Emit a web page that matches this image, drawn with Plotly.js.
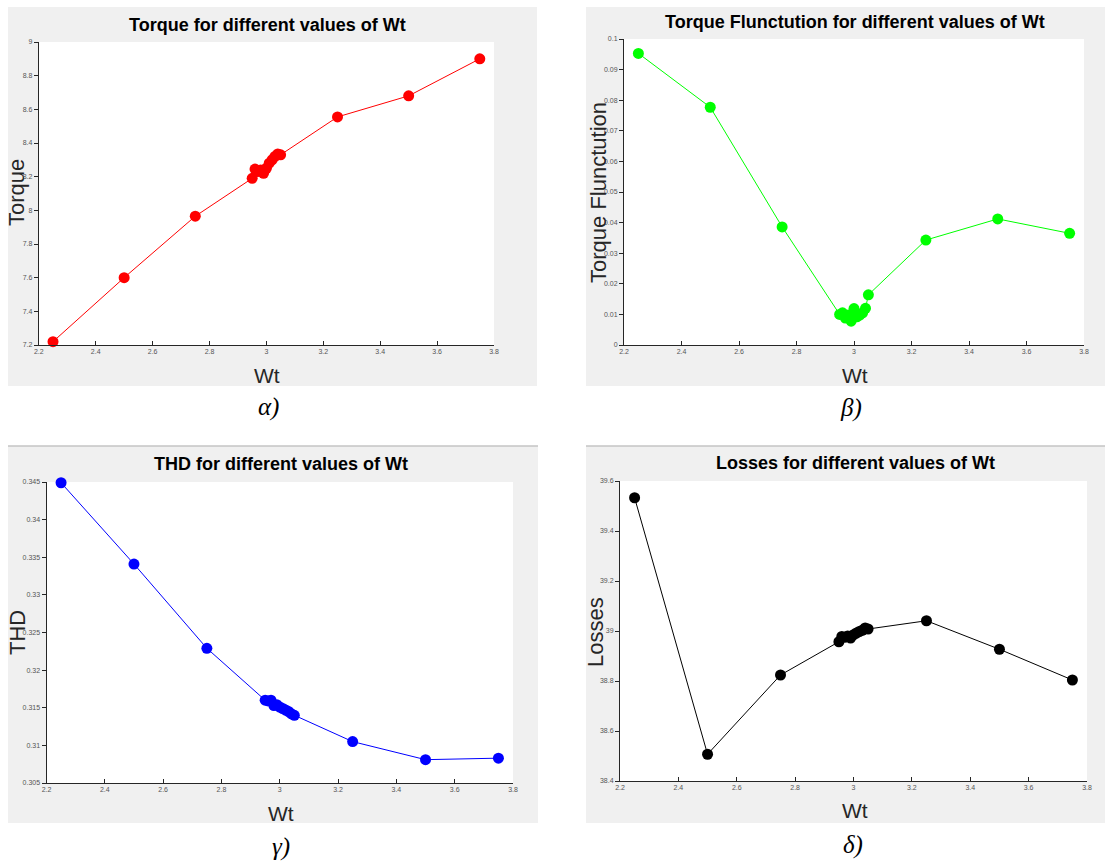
<!DOCTYPE html>
<html>
<head>
<meta charset="utf-8">
<script src="https://cdn.plot.ly/plotly-3.0.1.min.js"></script>
<style>html,body{margin:0;padding:0;background:#fff;}#chart{width:1105px;height:861px;}</style>
</head>
<body>
<div id="chart"></div>
<script>
// ---- data ----
const wt = [2.25, 2.5, 2.75, 2.95, 2.96, 2.97, 2.98, 2.99, 3.00, 3.01, 3.02, 3.03, 3.04, 3.05, 3.25, 3.5, 3.75];
const torque = [7.22, 7.60, 7.965, 8.19, 8.245, 8.23, 8.24, 8.22, 8.25, 8.28, 8.30, 8.32, 8.335, 8.33, 8.555, 8.68, 8.90];
const torqueFluct = [0.0953, 0.0777, 0.0386, 0.0100, 0.0105, 0.0088, 0.0098, 0.0078, 0.0119, 0.0092, 0.0098, 0.0105, 0.0120, 0.0164, 0.0343, 0.0412, 0.0365];
const thd = [0.3449, 0.3341, 0.3229, 0.3160, 0.3159, 0.3160, 0.3153, 0.3154, 0.3151, 0.3149, 0.3147, 0.3145, 0.3142, 0.3140, 0.3105, 0.3081, 0.3083];
const losses = [39.533, 38.507, 38.824, 38.957, 38.978, 38.975, 38.980, 38.972, 38.985, 38.992, 38.998, 39.003, 39.012, 39.008, 39.041, 38.927, 38.804];

const panelTitles = ["Torque for different values of Wt", "Torque Flunctution for different values of Wt", "THD for different values of Wt", "Losses for different values of Wt"];
const yTitles = ["Torque", "Torque Flunctution", "THD", "Losses"];
const xTitle = "Wt";
const captions = ["α)", "β)", "γ)", "δ)"];
const xTicks = [2.2, 2.4, 2.6, 2.8, 3, 3.2, 3.4, 3.6, 3.8];

// ---- layout helpers ----
const W = 1105, H = 861;
const px = v => v / W;
const py = v => 1 - v / H;
const sans = '"Liberation Sans", Arial, sans-serif';
const serif = '"Liberation Serif", "Times New Roman", serif';

const panels = [
  {x0: 38.8, x1: 494, y0: 42, y1: 345, ser: torque, color: '#ff0000', yr: [7.2, 9], dt: 0.2,
   box: [8, 7, 537, 386], title: [267, 25], ylab: [17, 193], xlab: [267, 375], cap: [268, 407]},
  {x0: 624, x1: 1084, y0: 39, y1: 345, ser: torqueFluct, color: '#00ff00', yr: [0, 0.1], dt: 0.01,
   box: [586, 7, 1105, 386], title: [855, 22], ylab: [599, 193], xlab: [855, 375], cap: [851, 408]},
  {x0: 46.5, x1: 513, y0: 482, y1: 783, ser: thd, color: '#0000ff', yr: [0.305, 0.345], dt: 0.005,
   box: [8, 446, 538, 823], title: [281, 464], ylab: [17, 633], xlab: [281, 813], cap: [281, 847]},
  {x0: 620, x1: 1087, y0: 481, y1: 781, ser: losses, color: '#000000', yr: [38.4, 39.6], dt: 0.2,
   box: [586, 446, 1105, 823], title: [855, 463], ylab: [595, 632], xlab: [855, 810], cap: [853, 845]}
];

const traces = [];
const layout = {
  width: W, height: H, margin: {l: 0, r: 0, t: 0, b: 0},
  paper_bgcolor: '#ffffff', showlegend: false,
  shapes: [], annotations: []
};

panels.forEach((p, i) => {
  const n = i + 1;
  const xa = 'xaxis' + (n === 1 ? '' : n), ya = 'yaxis' + (n === 1 ? '' : n);
  const xr = 'x' + (n === 1 ? '' : n), yr = 'y' + (n === 1 ? '' : n);
  traces.push({
    x: wt, y: p.ser, xaxis: xr, yaxis: yr, type: 'scatter', mode: 'lines+markers',
    line: {color: p.color, width: 1},
    marker: {color: p.color, size: 11},
    cliponaxis: false,
    hoverinfo: 'x+y'
  });
  const common = {
    showgrid: false, zeroline: false, showline: true, linecolor: '#262626', linewidth: 1,
    ticklen: 4, tickcolor: '#262626', tickwidth: 1,
    tickfont: {family: sans, size: 7, color: '#555555'}, fixedrange: true
  };
  layout[xa] = Object.assign({}, common, {
    domain: [px(p.x0), px(p.x1)], range: [2.2, 3.8], tickvals: xTicks, ticks: 'inside',
    anchor: yr
  });
  layout[ya] = Object.assign({}, common, {
    domain: [py(p.y1), py(p.y0)], range: p.yr, dtick: p.dt, tick0: p.yr[0], ticks: 'outside',
    anchor: xr
  });
  // grey figure background
  layout.shapes.push({type: 'rect', xref: 'paper', yref: 'paper', layer: 'below',
    x0: px(p.box[0]), x1: px(p.box[2]), y0: py(p.box[3]), y1: py(p.box[1]),
    fillcolor: '#f0f0f0', line: {width: 0}});
  if (i >= 2) {
    layout.shapes.push({type: 'line', xref: 'paper', yref: 'paper', layer: 'below',
      x0: px(p.box[0]), x1: px(p.box[2]), y0: py(p.box[1]), y1: py(p.box[1]),
      line: {color: '#c4c4c4', width: 1.5}});
  }
  // white plot area
  layout.shapes.push({type: 'rect', xref: 'paper', yref: 'paper', layer: 'below',
    x0: px(p.x0), x1: px(p.x1), y0: py(p.y1), y1: py(p.y0),
    fillcolor: '#ffffff', line: {width: 0}});
  // titles
  layout.annotations.push({xref: 'paper', yref: 'paper', x: px(p.title[0]), y: py(p.title[1]),
    text: '<b>' + panelTitles[i] + '</b>', showarrow: false, xanchor: 'center', yanchor: 'middle',
    font: {family: sans, size: 18, color: '#000000'}});
  layout.annotations.push({xref: 'paper', yref: 'paper', x: px(p.ylab[0]), y: py(p.ylab[1]),
    text: yTitles[i], showarrow: false, textangle: -90, xanchor: 'center', yanchor: 'middle',
    font: {family: sans, size: 22, color: '#262626'}});
  layout.annotations.push({xref: 'paper', yref: 'paper', x: px(p.xlab[0]), y: py(p.xlab[1]),
    text: xTitle, showarrow: false, xanchor: 'center', yanchor: 'middle',
    font: {family: sans, size: 21, color: '#262626'}});
  layout.annotations.push({xref: 'paper', yref: 'paper', x: px(p.cap[0]), y: py(p.cap[1]),
    text: '<i>' + captions[i] + '</i>', showarrow: false, xanchor: 'center', yanchor: 'middle',
    font: {family: serif, size: 25, color: '#000000'}});
});

Plotly.newPlot('chart', traces, layout, {displayModeBar: false, staticPlot: true});
</script>
</body>
</html>
